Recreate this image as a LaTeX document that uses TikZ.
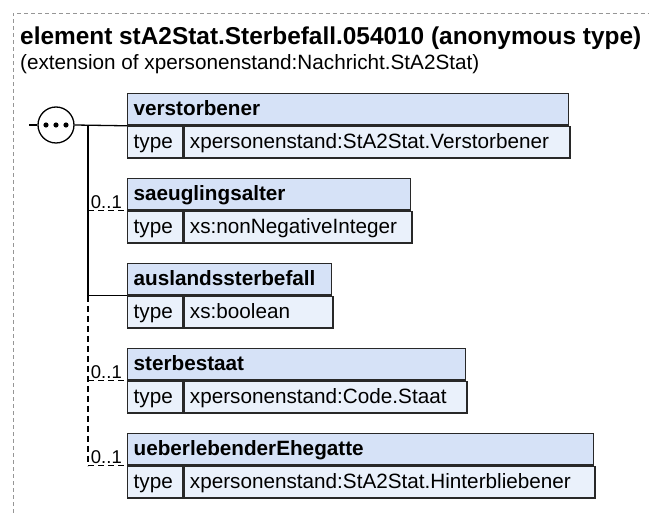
\documentclass[tikz,border=0pt]{standalone}
\usepackage{fontspec}
\setmainfont{Liberation Sans}
\definecolor{hdrfill}{RGB}{214,226,247}
\definecolor{rowfill}{RGB}{234,241,251}
\definecolor{boxline}{RGB}{40,40,40}
\definecolor{frame}{RGB}{150,150,150}
\tikzset{
  bx/.style={draw=boxline, line width=1.3pt, inner xsep=6pt, inner ysep=0pt,
    minimum height=31.5pt, anchor=north west, align=left,
    text height=15pt, text depth=3pt, font=\fontsize{20.7}{24}\selectfont},
  hdr/.style={bx, fill=hdrfill, font=\fontsize{20.7}{24}\selectfont\bfseries},
  cell/.style={bx, fill=rowfill},
  conn/.style={draw=black, line width=1.3pt},
  optconn/.style={conn, dash pattern=on 6pt off 4pt},
  lbl/.style={inner sep=0pt, anchor=base east, font=\fontsize{18.5}{22}\selectfont},
}
\newcommand\xsdbox[6]{%
  \node[hdr, text width=#4pt] (#1) at (127,#2) {#5};
  \node[cell, text width=43pt] (#1t) at (#1.south west) {type};
  \node[cell, text width=#3pt] (#1v) at (#1t.north east) {#6};
}
\begin{document}
\begin{tikzpicture}[x=1pt, y=-1pt]
\useasboundingbox (0,0) rectangle (649,513);
% outer frame
\draw[frame, line width=1pt, dash pattern=on 4pt off 3pt] (13,520) -- (13,13.5) -- (660,13.5);
% title
\node[inner sep=0pt, anchor=base west, font=\fontsize{24.4}{28}\selectfont\bfseries] (title) at (20,45) {element stA2Stat.Sterbefall.054010 (anonymous type)};
\node[inner sep=0pt, anchor=base west, font=\fontsize{20.7}{24}\selectfont] (subtitle) at (20,70) {(extension of xpersonenstand:Nachricht.StA2Stat)};
% boxes
\xsdbox{b1}{93}{374}{429}{verstorbener}{xpersonenstand:StA2Stat.Verstorbener}
\xsdbox{b2}{178}{216}{271}{saeuglingsalter}{xs:nonNegativeInteger}
\xsdbox{b3}{263}{137}{192}{auslandssterbefall}{xs:boolean}
\xsdbox{b4}{348}{271}{326}{sterbestaat}{xpersonenstand:Code.Staat}
\xsdbox{b5}{433}{399}{454}{ueberlebenderEhegatte}{xpersonenstand:StA2Stat.Hinterbliebener}
% compositor
\node[circle, draw=black, line width=1.3pt, fill=white, minimum size=36pt, inner sep=0pt] (seq) at (56,125) {};
\foreach \dx in {-10,0,10} \fill ([xshift=\dx pt]seq.center) circle (2.6pt);
\coordinate (stub) at (29,125);
\coordinate (trunk) at (88,125);
\draw[conn] (stub) -- (seq.west);
\draw[conn] (seq.east) -- (b1.south west);
\draw[conn] (trunk) -- (trunk |- b3.south west);
\draw[optconn] (trunk |- b3.south west) -- (trunk |- b5.south west);
\draw[optconn] (trunk |- b2.south west) -- (b2.south west);
\draw[conn] (trunk |- b3.south west) -- (b3.south west);
\draw[optconn] (trunk |- b4.south west) -- (b4.south west);
\draw[optconn] (trunk |- b5.south west) -- (b5.south west);
\node[lbl] (m2) at ([xshift=-5pt, yshift=2pt]b2.south west) {0..1};
\node[lbl] (m4) at ([xshift=-5pt, yshift=2pt]b4.south west) {0..1};
\node[lbl] (m5) at ([xshift=-5pt, yshift=2pt]b5.south west) {0..1};
\end{tikzpicture}
\end{document}
